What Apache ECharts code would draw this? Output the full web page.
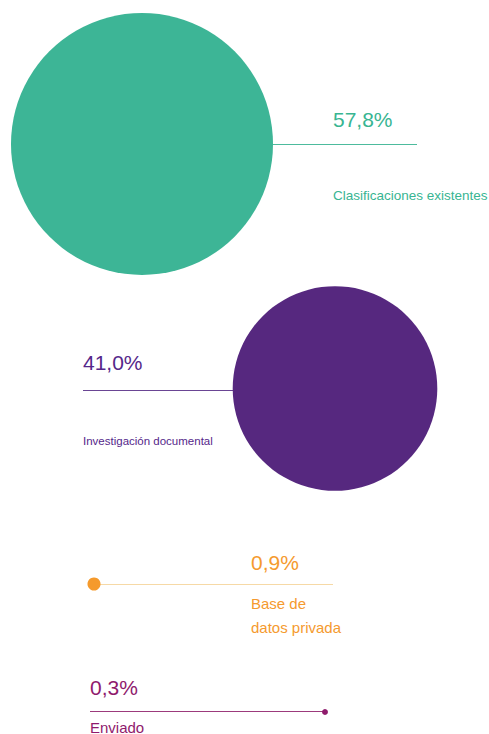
<!DOCTYPE html>
<html>
<head>
<meta charset="utf-8">
<script src="https://cdn.jsdelivr.net/npm/echarts@6/dist/echarts.min.js"></script>
<style>
  html, body { margin: 0; padding: 0; background: #ffffff; }
  #chart { width: 489px; height: 734px; }
</style>
</head>
<body>
<div id="chart"></div>
<script>
// data
const categories = ['Clasificaciones existentes', 'Investigación documental', 'Base de\ndatos privada', 'Enviado'];
const values = [57.8, 41.0, 0.9, 0.3];
const valueLabels = ['57,8%', '41,0%', '0,9%', '0,3%'];

// layout (plot coords == pixels)
const bubblePos = [[142, 144], [335, 388.5], [94, 584], [325, 712]];
const lineX = [[142, 417], [83, 335], [94, 333], [90, 325]];
const lineY = [144.5, 390.5, 584, 711.7];
const valuePos = [[333, 119], [83, 362.5], [251, 562.5], [90, 687]];
const namePos = [[333, 195], [83, 441], [251, 615], [90, 727]];
const nameSize = [13.5, 11.5, 15, 15];

// styles
const bubbleColors = ['#3db596', '#56287f', '#f59a2c', '#8f1b6c'];
const textColors = ['#38b592', '#55278a', '#f59a2e', '#8f1a6d'];
const lineColors = ['#4dbb9d', '#6a4594', '#f6d9a6', '#9c3a7c'];
const maxBubble = 262;
const FONT = 'Liberation Sans, Arial, sans-serif';

const chart = echarts.init(document.getElementById('chart'), null, { renderer: 'svg' });

// text-only scatter items, label sits on the point
const textItem = (p, text, color, size) => ({
  value: p,
  itemStyle: { opacity: 1 },
  label: {
    show: true,
    position: [0, 0],
    align: 'left',
    verticalAlign: 'middle',
    formatter: text,
    color: color,
    opacity: 1,
    fontSize: size,
    lineHeight: 24,
    fontFamily: FONT
  }
});

const option = {
  animation: false,
  grid: { left: 0, right: 0, top: 0, bottom: 0 },
  xAxis: { type: 'value', min: 0, max: 489, show: false },
  yAxis: { type: 'value', min: 0, max: 734, inverse: true, show: false },
  series: [
    {
      // connectors
      type: 'lines',
      coordinateSystem: 'cartesian2d',
      z: 1,
      lineStyle: { width: 1.2, opacity: 1 },
      data: lineX.map((xs, i) => ({
        coords: [[xs[0], lineY[i]], [xs[1], lineY[i]]],
        lineStyle: { color: lineColors[i] }
      }))
    },
    {
      // bubbles
      type: 'scatter',
      z: 2,
      symbolSize: (val) => maxBubble * Math.pow(val[2] / values[0], 0.72),
      data: bubblePos.map((p, i) => ({
        value: [p[0], p[1], values[i]],
        itemStyle: { color: bubbleColors[i], opacity: 1 }
      }))
    },
    {
      // percentages
      type: 'scatter',
      z: 3,
      symbolSize: 0,
      itemStyle: { opacity: 1 },
      data: valuePos.map((p, i) => textItem(p, valueLabels[i], textColors[i], 21))
    },
    {
      // category names
      type: 'scatter',
      z: 3,
      symbolSize: 0,
      itemStyle: { opacity: 1 },
      data: namePos.map((p, i) => textItem(p, categories[i], textColors[i], nameSize[i]))
    }
  ]
};

chart.setOption(option);
</script>
</body>
</html>
